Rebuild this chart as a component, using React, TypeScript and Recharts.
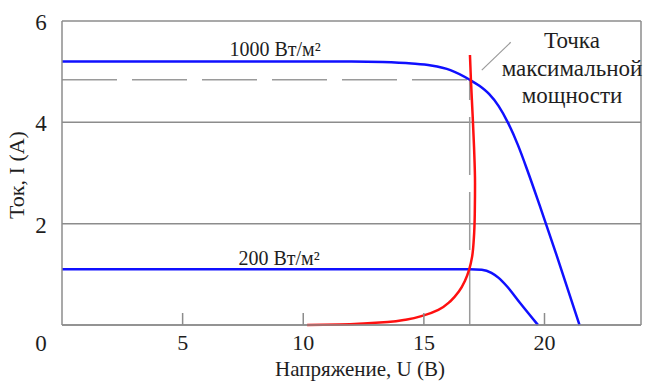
import { LineChart, Line, XAxis, YAxis, CartesianGrid, ReferenceLine, ReferenceDot } from "recharts";

// I–V curve at 1000 W/m²
const u1000 = [0, 12, 13.3, 14.5, 15.3, 16.1, 16.9, 17.3, 17.7, 18.1, 18.5, 18.9, 19.3, 19.8, 20.5, 21.45];
const i1000 = [5.2, 5.2, 5.19, 5.16, 5.12, 5.03, 4.84, 4.72, 4.56, 4.32, 3.98, 3.55, 3.04, 2.36, 1.38, 0];

// I–V curve at 200 W/m²
const u200 = [0, 16.9, 17.4, 17.8, 18.1, 18.45, 18.98, 19.73];
const i200 = [1.1, 1.1, 1.09, 1.03, 0.93, 0.76, 0.44, 0];

// locus of maximum power points
const uMpp = [10.16, 11.5, 12.5, 13.5, 14.3, 15.0, 15.6, 16.1, 16.45, 16.7, 16.88, 17.0, 17.07, 17.11, 17.12, 17.08, 17.02, 16.95, 16.91];
const iMpp = [0, 0.01, 0.03, 0.06, 0.11, 0.19, 0.3, 0.47, 0.66, 0.87, 1.1, 1.35, 1.7, 2.2, 2.8, 3.5, 4.15, 4.84, 5.33];

const xTicks = [5, 10, 15, 20];
const yTicks = [0, 2, 4, 6];

const mpp1000 = { u: 16.9, i: 4.84 };

const toRows = (us: number[], is: number[]) => us.map((u, k) => ({ u, i: is[k] }));

const FONT = '"Liberation Serif", "Times New Roman", serif';
const GRID = "#8c8c8c";
const TEXT = "#1e1e1e";

function XTick(props: any) {
  const { x, y, payload } = props;
  return (
    <g>
      <line x1={x} x2={x} y1={y} y2={y - 12} stroke={GRID} strokeWidth={1.5} />
      <text x={x} y={y + 25} textAnchor="middle" fill={TEXT} style={{ fontSize: 22, fontFamily: FONT }}>
        {payload.value}
      </text>
    </g>
  );
}

function YTick(props: any) {
  const { x, y, payload } = props;
  const dy = payload.value === 0 ? 26 : 9;
  return (
    <text x={x - 21} y={y + dy} textAnchor="middle" fill={TEXT} style={{ fontSize: 23, fontFamily: FONT }}>
      {payload.value}
    </text>
  );
}

const noteStyle = { fontSize: 23, fill: TEXT, style: { fontFamily: FONT, fontSize: 23 } };
const curveLabel = { fontSize: 20, fill: TEXT, style: { fontFamily: FONT, fontSize: 20 } };

export default function App() {
  return (
    <div style={{ position: "absolute", left: 0, top: 0, width: 646, height: 386, background: "#fff" }}>
      <LineChart width={646} height={386} margin={{ top: 21, right: 5, left: 0, bottom: 0 }}>
        <CartesianGrid vertical={false} stroke={GRID} strokeWidth={1.5} />
        <XAxis
          type="number"
          dataKey="u"
          domain={[0, 24]}
          ticks={xTicks}
          height={61}
          tickSize={0}
          tickMargin={0}
          tickLine={false}
          stroke={GRID}
          strokeWidth={1.5}
          tick={<XTick />}
          label={{
            content: () => (
              <text x={360} y={376} textAnchor="middle" fill={TEXT} style={{ fontSize: 21, fontFamily: FONT }}>
                Напряжение, U (B)
              </text>
            ),
          }}
        />
        <YAxis
          type="number"
          dataKey="i"
          domain={[0, 6]}
          ticks={yTicks}
          width={62}
          tickSize={0}
          tickMargin={0}
          tickLine={false}
          stroke={GRID}
          strokeWidth={1.5}
          tick={<YTick />}
          label={{
            content: () => (
              <text
                x={16}
                y={175}
                transform="rotate(-90 16 175)"
                textAnchor="middle"
                dominantBaseline="central"
                fill={TEXT}
                style={{ fontSize: 22, fontFamily: FONT }}
              >
                Ток, I (A)
              </text>
            ),
          }}
        />
        <ReferenceLine x={24} stroke={GRID} strokeWidth={1.5} />
        <ReferenceLine
          segment={[{ x: 0, y: mpp1000.i }, { x: mpp1000.u, y: mpp1000.i }]}
          stroke="#9a9a9a"
          strokeWidth={1.5}
          strokeDasharray="55 15"
        />
        <ReferenceLine
          segment={[{ x: mpp1000.u, y: 0 }, { x: mpp1000.u, y: mpp1000.i }]}
          stroke="#9a9a9a"
          strokeWidth={1.5}
          strokeDasharray="58 17"
        />
        <ReferenceLine
          segment={[{ x: 17.4, y: 5.03 }, { x: 18.6, y: 5.58 }]}
          stroke="#9a9a9a"
          strokeWidth={1.2}
        />
        <Line
          data={toRows(u1000, i1000)}
          dataKey="i"
          type="monotone"
          stroke="#1010ff"
          strokeWidth={2.5}
          dot={false}
          isAnimationActive={false}
        />
        <Line
          data={toRows(u200, i200)}
          dataKey="i"
          type="monotone"
          stroke="#1010ff"
          strokeWidth={2.5}
          dot={false}
          isAnimationActive={false}
        />
        <Line
          data={toRows(uMpp, iMpp)}
          dataKey="i"
          type="monotoneY"
          stroke="#ff1010"
          strokeWidth={2.5}
          dot={false}
          isAnimationActive={false}
        />
        <ReferenceDot x={8.83} y={5.45} r={0} stroke="none" label={{ value: "1000 Вт/м²", position: "center", ...curveLabel }} />
        <ReferenceDot x={9.0} y={1.32} r={0} stroke="none" label={{ value: "200 Вт/м²", position: "center", ...curveLabel }} />
        <ReferenceDot x={21.14} y={5.62} r={0} stroke="none" label={{ value: "Точка", position: "center", ...noteStyle }} />
        <ReferenceDot x={21.14} y={5.07} r={0} stroke="none" label={{ value: "максимальной", position: "center", ...noteStyle }} />
        <ReferenceDot x={21.14} y={4.54} r={0} stroke="none" label={{ value: "мощности", position: "center", ...noteStyle }} />
      </LineChart>
    </div>
  );
}
